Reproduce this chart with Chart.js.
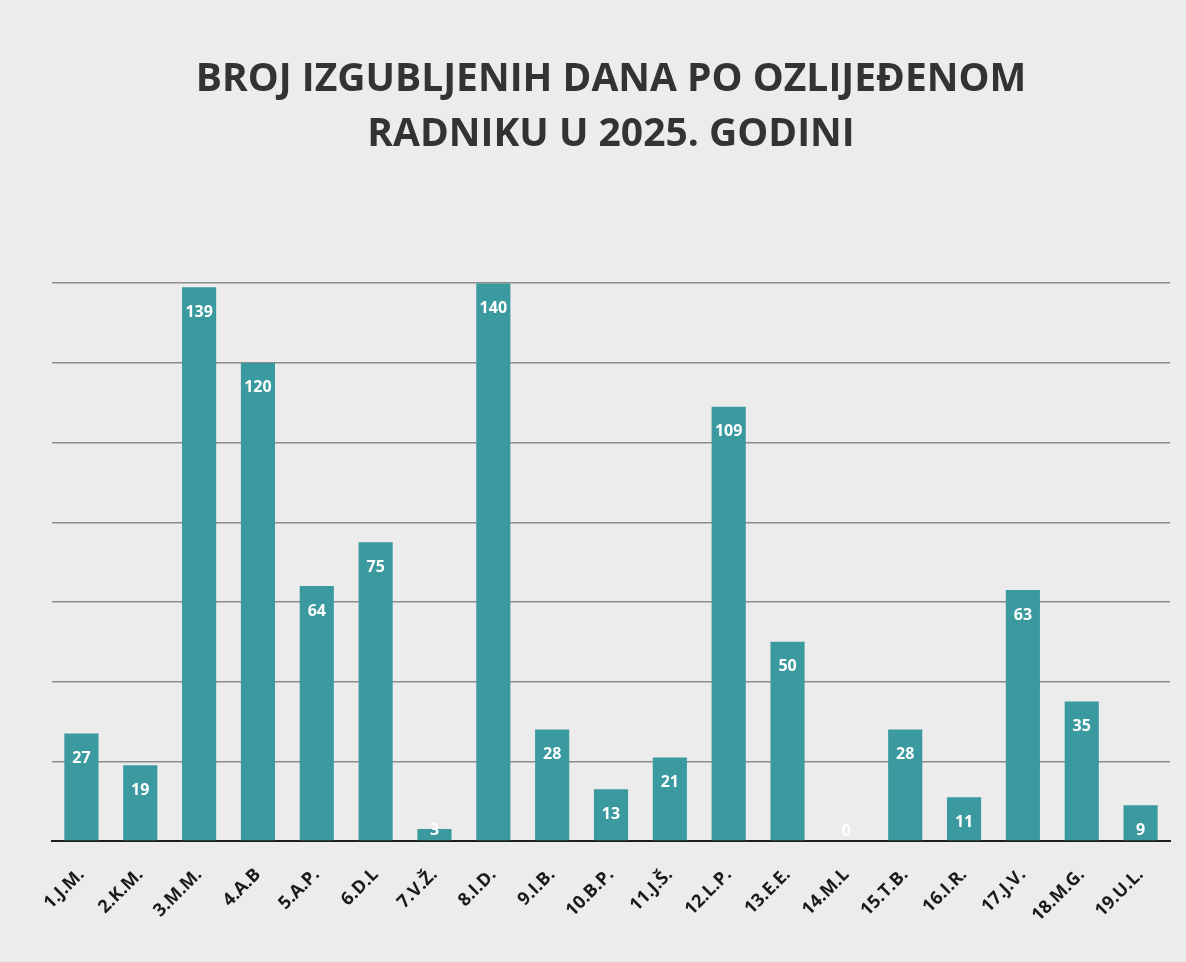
<!DOCTYPE html>
<html>
<head>
<meta charset="utf-8">
<script src="https://cdn.jsdelivr.net/npm/chart.js@4"></script>
<style>
  html, body { margin: 0; padding: 0; background: #ececec; }
  canvas { display: block; }
</style>
</head>
<body>
<canvas id="chart" width="1186" height="962"></canvas>
<script>
  // Workers (labels under the bars)
  const workers = ['1.J.M.', '2.K.M.', '3.M.M.', '4.A.B', '5.A.P.', '6.D.L', '7.V.Ž.', '8.I.D.', '9.I.B.', '10.B.P.',
    '11.J.Š.', '12.L.P.', '13.E.E.', '14.M.L', '15.T.B.', '16.I.R.', '17.J.V.', '18.M.G.', '19.U.L.'];
  // Lost days per injured worker
  const lostDays = [27, 19, 139, 120, 64, 75, 3, 140, 28, 13, 21, 109, 50, 0, 28, 11, 63, 35, 9];
  const titleLines = ['BROJ IZGUBLJENIH DANA PO OZLIJEĐENOM', 'RADNIKU U 2025. GODINI'];

  // simple value labels, inside the top of each bar
  const valueLabels = {
    id: 'valueLabels',
    afterDatasetsDraw(chart) {
      const ctx = chart.ctx;
      const meta = chart.getDatasetMeta(0);
      ctx.save();
      ctx.font = 'bold 16px "Open Sans"';
      ctx.fillStyle = '#ffffff';
      ctx.textAlign = 'center';
      ctx.textBaseline = 'middle';
      meta.data.forEach((bar, i) => {
        const y = Math.min(bar.y + 25, bar.base - 10);
        ctx.fillText(lostDays[i], bar.x, y);
      });
      ctx.restore();
    }
  };

  const ctx = document.getElementById('chart').getContext('2d');
  new Chart(ctx, {
    type: 'bar',
    data: {
      labels: workers,
      datasets: [{
        data: lostDays,
        backgroundColor: '#3a9a9f',
        barPercentage: 0.58,
        categoryPercentage: 1
      }]
    },
    options: {
      responsive: false,
      animation: false,
      layout: { padding: { left: 52, right: 16, top: 53, bottom: 21 } },
      plugins: {
        legend: { display: false },
        tooltip: { enabled: false },
        title: {
          display: true,
          text: titleLines,
          color: '#333333',
          font: { family: '"Open Sans"', size: 39, weight: 'bold', lineHeight: 1.4 },
          padding: { top: 0, bottom: 121 }
        }
      },
      scales: {
        x: {
          grid: { display: false },
          border: { display: true, color: '#1e1e1e', width: 2 },
          ticks: {
            color: '#1a1a1a',
            font: { family: '"Open Sans"', size: 18, weight: 'bold' },
            padding: 15,
            minRotation: 45,
            maxRotation: 45,
            autoSkip: false
          }
        },
        y: {
          min: 0,
          max: 140,
          ticks: { display: false, stepSize: 20 },
          border: { display: false },
          grid: { color: '#8c8c8c', lineWidth: 1.5, drawTicks: false }
        }
      }
    },
    plugins: [valueLabels]
  });
</script>
</body>
</html>
